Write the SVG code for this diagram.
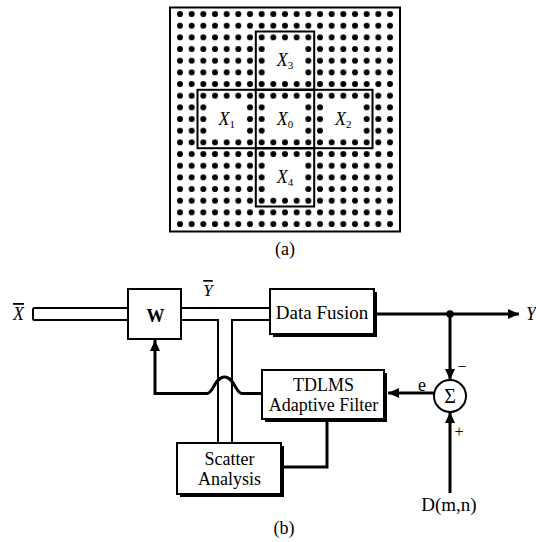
<svg xmlns="http://www.w3.org/2000/svg" width="536" height="542" viewBox="0 0 536 542">
<style>
text{font-family:"Liberation Serif","Times New Roman",serif;fill:#000}
.it{font-style:italic}
.box{fill:#fff;stroke:#000;stroke-width:2}
.shadow{fill:#000}
.wire{fill:none;stroke:#000;stroke-width:3}
.pipe{fill:none;stroke:#000;stroke-width:2}
.blk{fill:none;stroke:#000;stroke-width:2}
.lbl{font-size:19px;text-anchor:middle}
.lbl2{font-size:18px;text-anchor:middle}
</style>
<defs>
<pattern id="dots" patternUnits="userSpaceOnUse" x="174.167" y="8.167" width="11.667" height="11.667">
<circle cx="5.833" cy="5.833" r="3" fill="#000"/>
</pattern>
<marker id="arr" markerUnits="userSpaceOnUse" markerWidth="12" markerHeight="10" refX="11" refY="5" orient="auto">
<path d="M0,0 L11,5 L0,10 z" fill="#000"/>
</marker>
</defs>
<rect width="536" height="542" fill="#fff"/>

<g id="panel-a">
<rect x="170" y="7.5" width="230" height="224" fill="#fff" stroke="#000" stroke-width="2"/>
<rect x="174.167" y="8.167" width="221.667" height="221.667" fill="url(#dots)"/>
<g fill="#fff">
<rect x="267.5" y="43.2" width="35" height="35"/>
<rect x="209.2" y="101.5" width="35" height="35"/>
<rect x="267.5" y="101.5" width="35" height="35"/>
<rect x="325.8" y="101.5" width="35" height="35"/>
<rect x="267.5" y="159.8" width="35" height="35"/>
</g>
<rect class="blk" x="255.8" y="31.5" width="58.4" height="58.3"/>
<rect class="blk" x="197.5" y="89.8" width="175" height="58.4"/>
<rect class="blk" x="255.8" y="89.8" width="58.4" height="58.4"/>
<rect class="blk" x="255.8" y="148.2" width="58.4" height="58.3"/>
<text x="285" y="66" font-size="18" text-anchor="middle"><tspan class="it">X</tspan><tspan font-size="11" dy="3">3</tspan></text>
<text x="226.7" y="124.5" font-size="18" text-anchor="middle"><tspan class="it">X</tspan><tspan font-size="11" dy="3">1</tspan></text>
<text x="285" y="124.5" font-size="18" text-anchor="middle"><tspan class="it">X</tspan><tspan font-size="11" dy="3">0</tspan></text>
<text x="343.3" y="124.5" font-size="18" text-anchor="middle"><tspan class="it">X</tspan><tspan font-size="11" dy="3">2</tspan></text>
<text x="285" y="183" font-size="18" text-anchor="middle"><tspan class="it">X</tspan><tspan font-size="11" dy="3">4</tspan></text>
<text x="285" y="255" font-size="18" text-anchor="middle">(a)</text>
</g>

<g id="connectors">
<rect class="pipe" x="33" y="308" width="95" height="12" rx="1.5"/>
<path class="pipe" d="M181 308 H270 M181 320 H218 V443 M232 443 V320 H270"/>
<path class="wire" d="M262 393.5 H242 C236 393.5 234 377 224.5 377 C215 377 213 393.5 207 393.5 H155 V340" marker-end="url(#arr)"/>
<path class="wire" d="M377 314 H519" marker-end="url(#arr)"/>
<circle cx="450" cy="314" r="3.8" fill="#000"/>
<path class="wire" d="M450 314 V380" marker-end="url(#arr)"/>
<path class="wire" d="M450 493 V412" marker-end="url(#arr)"/>
<path class="wire" d="M434 393 H388" marker-end="url(#arr)"/>
<path class="wire" d="M327 421 V467 H284"/>
</g>

<g id="node-W">
<rect class="box" x="128" y="289" width="53" height="50"/>
<text x="155.5" y="322" font-size="18" font-weight="bold" text-anchor="middle">W</text>
</g>

<g id="node-datafusion">
<rect class="shadow" x="273" y="292" width="104" height="45"/>
<rect class="box" x="270" y="289" width="104" height="45"/>
<text class="lbl" x="322" y="319">Data Fusion</text>
</g>

<g id="node-tdlms">
<rect class="shadow" x="265" y="373" width="122" height="49"/>
<rect class="box" x="262" y="370" width="122" height="49"/>
<text class="lbl2" x="323.5" y="391">TDLMS</text>
<text class="lbl2" x="323.5" y="410.5">Adaptive Filter</text>
</g>

<g id="node-scatter">
<rect class="shadow" x="180" y="446" width="104" height="51"/>
<rect class="box" x="177" y="443" width="104" height="51"/>
<text class="lbl2" x="229.5" y="465">Scatter</text>
<text class="lbl2" x="229.5" y="485">Analysis</text>
</g>

<g id="node-sigma">
<circle cx="450" cy="396" r="16" fill="#fff" stroke="#000" stroke-width="2"/>
<text x="450" y="403" font-size="20" text-anchor="middle">Σ</text>
</g>

<g id="labels">
<text class="it" x="18.5" y="320" font-size="18" text-anchor="middle" text-decoration="overline">X</text>
<text class="it" x="208" y="296" font-size="17" text-anchor="middle" text-decoration="overline">Y</text>
<text class="it" x="526" y="320" font-size="18">Y</text>
<text x="422" y="391" font-size="18" text-anchor="middle">e</text>
<text x="462" y="372" font-size="16" text-anchor="middle">−</text>
<text x="459" y="437" font-size="16" text-anchor="middle">+</text>
<text x="449" y="511" font-size="19" text-anchor="middle">D(m,n)</text>
<text x="284" y="534" font-size="18" text-anchor="middle">(b)</text>
</g>
</svg>
